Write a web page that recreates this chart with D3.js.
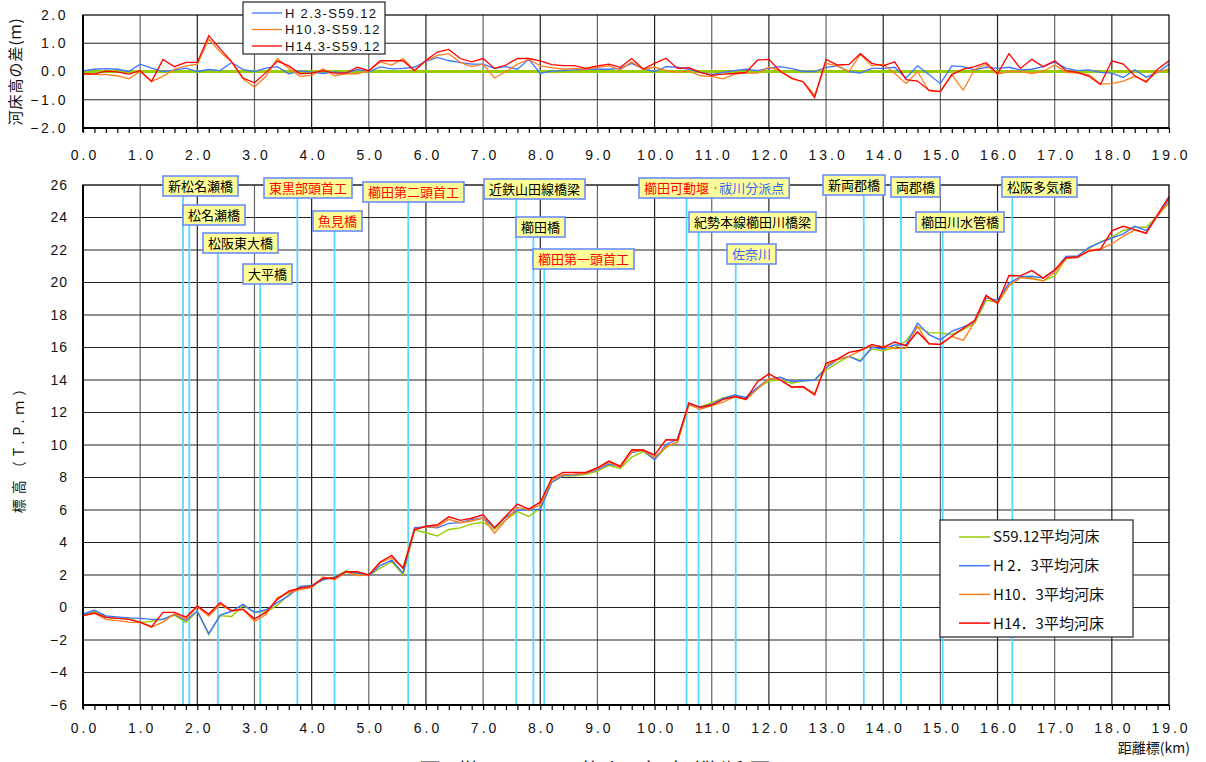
<!DOCTYPE html>
<html><head><meta charset="utf-8">
<script src="https://cdn.jsdelivr.net/npm/d3@7"></script>
<style>
body{margin:0;background:#fff;}
svg{display:block;}
</style></head><body>
<svg id="c" width="1206" height="762"></svg>
<script>
// ---------------- DATA ----------------
const stations = [0.0,0.2,0.4,0.6,0.8,1.0,1.2,1.4,1.6,1.8,2.0,2.2,2.4,2.6,2.8,3.0,3.2,3.4,3.6,3.8,
  4.0,4.2,4.4,4.6,4.8,5.0,5.2,5.4,5.6,5.8,6.0,6.2,6.4,6.6,6.8,7.0,7.2,7.4,7.6,7.8,
  8.0,8.2,8.4,8.6,8.8,9.0,9.2,9.4,9.6,9.8,10.0,10.2,10.4,10.6,10.8,11.0,11.2,11.4,11.6,11.8,
  12.0,12.2,12.4,12.6,12.8,13.0,13.2,13.4,13.6,13.8,14.0,14.2,14.4,14.6,14.8,15.0,15.2,15.4,15.6,15.8,
  16.0,16.2,16.4,16.6,16.8,17.0,17.2,17.4,17.6,17.8,18.0,18.2,18.4,18.6,18.8,19.0];

// S59.12 mean bed elevation (T.P. m)
const bedS59 = [
  -0.42,-0.25,-0.62,-0.66,-0.64,
  -0.93,-0.85,-0.73,-0.47,-0.92,
  -0.22,-1.67,-0.50,-0.55, 0.13,
  -0.30,-0.26, 0.13, 0.80, 1.28,
   1.36, 1.77, 1.86, 2.26, 2.05,
   1.97, 2.42, 2.82, 2.02, 4.77,
   4.60, 4.40, 4.80, 4.90, 5.15,
   5.25, 4.80, 5.40, 5.90, 5.60,
   6.10, 7.70, 8.10, 8.10, 8.20,
   8.40, 8.75, 8.55, 9.25, 9.60,
   9.10, 9.85,10.20,12.45,12.35,
  12.60,12.90,13.05,12.85,13.50,
  13.95,14.00,13.80,13.95,14.00,
  14.60,15.05,15.45,15.20,15.90,
  15.80,16.00,16.40,17.30,16.90,
  16.90,16.80,17.10,17.50,18.90,
  18.80,19.80,20.30,20.30,20.10,
  20.40,21.50,21.60,22.10,22.50,
  22.80,23.20,23.40,23.40,24.10,
  24.90];

// differences from S59.12 (m)
const diffH2 = [
   0.02, 0.08, 0.10, 0.08, 0.00,
   0.26, 0.12, 0.00, 0.05, 0.12,
   0.00, 0.07, 0.03, 0.32, 0.07,
   0.00, 0.12, 0.17,-0.08, 0.02,
  -0.02,-0.07,-0.01,-0.06, 0.07,
  -0.01, 0.16, 0.09, 0.11, 0.15,
   0.36, 0.50, 0.38, 0.32, 0.26,
   0.26, 0.11, 0.17, 0.08, 0.43,
  -0.06, 0.01, 0.03, 0.06, 0.08,
   0.08, 0.08, 0.11, 0.29, 0.09,
   0.00, 0.17, 0.15, 0.08,-0.03,
  -0.11,-0.03, 0.03, 0.08, 0.03,
   0.11, 0.17, 0.10, 0.00, 0.00,
   0.15, 0.20, 0.00,-0.06, 0.11,
   0.11, 0.15,-0.23, 0.20,-0.11,
  -0.43, 0.20, 0.17, 0.06, 0.15,
   0.11, 0.15, 0.06, 0.08, 0.17,
   0.34, 0.11, 0.03, 0.06,-0.03,
  -0.06,-0.21, 0.06,-0.20,-0.03,
   0.26];
const diffH10 = [
  -0.09,-0.10,-0.11,-0.15,-0.26,
   0.00,-0.35,-0.17, 0.08, 0.20,
   0.25, 1.15, 0.69, 0.34,-0.26,
  -0.55,-0.17, 0.46, 0.11,-0.17,
  -0.14, 0.10,-0.15,-0.08,-0.08,
   0.03, 0.34, 0.23, 0.46, 0.03,
   0.38, 0.57, 0.63, 0.32, 0.17,
   0.26,-0.23, 0.00, 0.26, 0.43,
   0.20, 0.14, 0.08, 0.11, 0.08,
   0.15, 0.20, 0.06, 0.34, 0.08,
   0.15, 0.03,-0.03, 0.03,-0.15,
  -0.17,-0.26,-0.09,-0.06,-0.06,
   0.15, 0.03,-0.26,-0.36,-0.84,
   0.29, 0.20, 0.00, 0.61, 0.20,
   0.26,-0.06,-0.43, 0.00,-0.69,
  -0.71,-0.11,-0.66, 0.08, 0.25,
  -0.10, 0.00, 0.00,-0.07, 0.00,
   0.23,-0.03,-0.06,-0.11,-0.44,
  -0.43,-0.34,-0.17,-0.34, 0.00,
   0.08];
const diffH14 = [
  -0.08,-0.09, 0.01,-0.01,-0.09,
   0.03,-0.35, 0.43, 0.17, 0.32,
   0.32, 1.27, 0.80, 0.35,-0.23,
  -0.40,-0.04, 0.37, 0.20,-0.08,
  -0.06, 0.03,-0.06,-0.06, 0.15,
   0.03, 0.38, 0.38, 0.38, 0.03,
   0.40, 0.69, 0.78, 0.46, 0.34,
   0.46, 0.11, 0.23, 0.46, 0.46,
   0.38, 0.24, 0.21, 0.21, 0.11,
   0.20, 0.26, 0.15, 0.46, 0.09,
   0.29, 0.47, 0.11, 0.14,-0.03,
  -0.14,-0.09,-0.07,-0.03, 0.40,
   0.43, 0.00,-0.23,-0.37,-0.92,
   0.43, 0.23, 0.25, 0.63, 0.29,
   0.20, 0.34,-0.29,-0.34,-0.66,
  -0.71,-0.11, 0.08, 0.17, 0.31,
  -0.08, 0.63, 0.11, 0.43, 0.17,
   0.38, 0.03,-0.03,-0.17,-0.46,
   0.38, 0.26,-0.15,-0.38, 0.08,
   0.38];

const diffLegend = ["H 2.3-S59.12","H10.3-S59.12","H14.3-S59.12"];
const bedLegend = ["S59.12平均河床","H 2．3平均河床","H10．3平均河床","H14．3平均河床"];

const landmarkNames = ["新松名瀬橋","松名瀬橋","松阪東大橋","大平橋","東黒部頭首工","魚見橋","櫛田第二頭首工",
  "近鉄山田線橋梁","櫛田橋","櫛田第一頭首工","櫛田可動堰 ·|祓川分派点","紀勢本線櫛田川橋梁","佐奈川",
  "新両郡橋","両郡橋","櫛田川水管橋","松阪多気橋"];
const landmarkKm = [1.75,1.86,2.36,3.10,3.75,4.40,5.69,7.58,7.88,8.07,10.56,10.77,11.42,13.66,14.31,15.04,16.26];

const kmTicks = [0,1,2,3,4,5,6,7,8,9,10,11,12,13,14,15,16,17,18,19];
const diffTicks = [-2,-1,0,1,2];
const elevTicks = [-6,-4,-2,0,2,4,6,8,10,12,14,16,18,20,22,24,26];

// ---------------- LAYOUT / STYLE ----------------
const COL = {s59:"#99cc00", h2:"#3f74ff", h10:"#ff7f1e", h14:"#ff0000"};
// label box: [left px, top px, text colour(s)]
const labelLayout = [
  [163,176,["#000"]],[183,205,["#000"]],[203,233,["#000"]],[243,264,["#000"]],
  [264,178,["#ff0000"]],[313,211,["#ff0000"]],[363,182,["#ff0000"]],
  [484,179,["#000"]],[516,217,["#000"]],[533,249,["#ff0000"]],
  [639,178,["#ff0000","#3366ff"]],[689,212,["#000"]],[727,244,["#3366ff"]],
  [823,175,["#000"]],[891,177,["#000"]],[916,212,["#000"]],[1002,177,["#000"]]
];
const NUMFONT = "'Liberation Sans', Arial, sans-serif";
const CJK = "'Noto Sans CJK JP', 'Noto Sans', sans-serif";

const svg = d3.select("#c");
const x = d3.scaleLinear().domain([0,19]).range([83,1169]);
const yT = d3.scaleLinear().domain([-2,2]).range([128,15]);
const yB = d3.scaleLinear().domain([-6,26]).range([705,185]);

const bedH2 = bedS59.map((v,i)=>v+diffH2[i]);
const bedH10 = bedS59.map((v,i)=>v+diffH10[i]);
const bedH14 = bedS59.map((v,i)=>v+diffH14[i]);
const zero = bedS59.map(v=>v-v);

function panel(y, yTicks){
  const g = svg.append("g");
  const [y0,y1] = y.range();
  g.selectAll(".vg").data(kmTicks.slice(1,-1)).join("line")
    .attr("x1",d=>x(d)).attr("x2",d=>x(d)).attr("y1",y1).attr("y2",y0)
    .attr("stroke",(d,i)=>i%2? "#222":"#666").attr("stroke-width",1.2);
  g.selectAll(".hg").data(yTicks.slice(1,-1)).join("line")
    .attr("x1",x(0)).attr("x2",x(19)).attr("y1",d=>y(d)).attr("y2",d=>y(d))
    .attr("stroke","#222").attr("stroke-width",1.1);
  return g;
}

// ===== top panel =====
panel(yT, diffTicks);
const lineT = vals => d3.line().x((d,i)=>x(stations[i])).y(d=>yT(d))(vals);
svg.append("path").attr("d",lineT(zero)).attr("fill","none").attr("stroke",COL.s59).attr("stroke-width",3);
[[diffH2,COL.h2],[diffH10,COL.h10],[diffH14,COL.h14]].forEach(([v,c])=>{
  svg.append("path").attr("d",lineT(v)).attr("fill","none").attr("stroke",c).attr("stroke-width",1.3);
});
svg.append("rect").attr("x",x(0)).attr("y",yT(2)).attr("width",x(19)-x(0)).attr("height",yT(-2)-yT(2))
  .attr("fill","none").attr("stroke","#000").attr("stroke-width",1.2);
svg.append("line").attr("x1",x(0)).attr("x2",x(0)).attr("y1",yT(2)).attr("y2",yT(-2)+4).attr("stroke","#000").attr("stroke-width",2);
svg.append("line").attr("x1",x(0)).attr("x2",x(19)).attr("y1",yT(-2)).attr("y2",yT(-2)).attr("stroke","#000").attr("stroke-width",2);

function xAxis(yPix, labY){
  const ax = svg.append("g").attr("transform",`translate(0,${yPix})`)
    .call(d3.axisBottom(x).tickValues(stations).tickSize(5).tickFormat(""));
  ax.select(".domain").remove();
  ax.selectAll("line").attr("stroke","#000").attr("stroke-width",1.2);
  const lab = svg.append("g").attr("transform",`translate(0,${labY})`)
    .call(d3.axisBottom(x).tickValues(kmTicks).tickSize(0).tickFormat(d3.format(".1f")));
  lab.select(".domain").remove();
  lab.selectAll("text").attr("font-family",NUMFONT).attr("font-size",14).attr("letter-spacing","3px")
    .attr("fill","#111").attr("dx","1.5px");
}
xAxis(yT(-2), 147);

const axT = svg.append("g").attr("transform",`translate(${x(0)-12},0)`)
  .call(d3.axisLeft(yT).tickValues(diffTicks).tickSize(0).tickFormat(d3.format(".1f")));
axT.select(".domain").remove();
axT.selectAll("text").attr("font-family",NUMFONT).attr("font-size",14).attr("letter-spacing","2.5px").attr("fill","#111");

svg.append("text").attr("transform",`translate(21,${yT(0)}) rotate(-90)`).attr("text-anchor","middle")
  .attr("font-family",CJK).attr("font-size",15).attr("fill","#111").attr("letter-spacing","1px")
  .text("河床高の差(ｍ)");

// top legend
const lgT = svg.append("g");
lgT.append("rect").attr("x",243).attr("y",2).attr("width",142).attr("height",52).attr("fill","#fff").attr("stroke","#222").attr("stroke-width",1.2);
[COL.h2,COL.h10,COL.h14].forEach((c,i)=>{
  const yy = 13 + i*16.5;
  lgT.append("line").attr("x1",252).attr("x2",282).attr("y1",yy).attr("y2",yy).attr("stroke",c).attr("stroke-width",1.3);
  lgT.append("text").attr("x",285).attr("y",yy).attr("dy","0.35em").attr("font-family",NUMFONT).attr("font-size",13)
    .attr("letter-spacing","1.3px").attr("fill","#111").text(diffLegend[i]);
});

// ===== bottom panel =====
panel(yB, elevTicks);
const lmG = svg.append("g");
const lineB = vals => d3.line().x((d,i)=>x(stations[i])).y(d=>yB(d))(vals);
[[bedS59,COL.s59],[bedH2,COL.h2],[bedH10,COL.h10],[bedH14,COL.h14]].forEach(([v,c])=>{
  svg.append("path").attr("d",lineB(v)).attr("fill","none").attr("stroke",c).attr("stroke-width",1.4);
});
svg.append("rect").attr("x",x(0)).attr("y",yB(26)).attr("width",x(19)-x(0)).attr("height",yB(-6)-yB(26))
  .attr("fill","none").attr("stroke","#000").attr("stroke-width",1.3);
svg.append("line").attr("x1",x(0)).attr("x2",x(0)).attr("y1",yB(26)).attr("y2",yB(-6)+4).attr("stroke","#000").attr("stroke-width",2);
svg.append("line").attr("x1",x(0)).attr("x2",x(19)).attr("y1",yB(-6)).attr("y2",yB(-6)).attr("stroke","#000").attr("stroke-width",2);
xAxis(yB(-6), 720);

const axB = svg.append("g").attr("transform",`translate(${x(0)-12},0)`)
  .call(d3.axisLeft(yB).tickValues(elevTicks).tickSize(0).tickFormat(d3.format("d")));
axB.select(".domain").remove();
axB.selectAll("text").attr("font-family",NUMFONT).attr("font-size",14).attr("letter-spacing","1px").attr("fill","#111");

svg.append("text").attr("transform",`translate(24,445) rotate(-90)`).attr("text-anchor","middle")
  .attr("font-family",CJK).attr("font-size",14).attr("fill","#111").attr("letter-spacing","5px")
  .text("標高（T.P.ｍ）");

svg.append("text").attr("x",1190).attr("y",753).attr("text-anchor","end")
  .attr("font-family",CJK).attr("font-size",14).attr("fill","#111").text("距離標(km)");

// landmarks
landmarkNames.forEach((name,i)=>{
  const [bx,by,cols] = labelLayout[i];
  const g = svg.append("g");
  const t = g.append("text").attr("x",bx+5).attr("y",by+10).attr("dy","0.36em")
    .attr("font-family",CJK).attr("font-size",13);
  name.split("|").forEach((part,j)=>{ t.append("tspan").attr("fill",cols[j]||cols[0]).text(part); });
  const w = t.node().getComputedTextLength();
  g.insert("rect","text").attr("x",bx).attr("y",by).attr("width",w+10).attr("height",20)
    .attr("fill","#ffff99").attr("stroke","#6a8cff").attr("stroke-width",1.6);
  lmG.append("line").attr("x1",x(landmarkKm[i])).attr("x2",x(landmarkKm[i]))
    .attr("y1",by+20).attr("y2",yB(-6)).attr("stroke","#5ad6ff").attr("stroke-width",1.8);
});

// bottom legend
const lgB = svg.append("g");
lgB.append("rect").attr("x",940).attr("y",520).attr("width",193).attr("height",117).attr("fill","#fff").attr("stroke","#333").attr("stroke-width",1.3);
[COL.s59,COL.h2,COL.h10,COL.h14].forEach((c,i)=>{
  const yy = 537 + i*28.7;
  lgB.append("line").attr("x1",959).attr("x2",990).attr("y1",yy).attr("y2",yy).attr("stroke",c).attr("stroke-width",1.5);
  lgB.append("text").attr("x",993).attr("y",yy).attr("dy","0.36em").attr("font-family",CJK).attr("font-size",15)
    .attr("fill","#111").text(bedLegend[i]);
});

// caption (mostly below the picture's lower edge, as in the reference)
svg.append("text").attr("x",598).attr("y",779).attr("text-anchor","middle")
  .attr("font-family",CJK).attr("font-size",22).attr("fill","#111").attr("letter-spacing","6px")
  .text("図 櫛田川 平均河床高縦断図");
</script>
</body></html>
